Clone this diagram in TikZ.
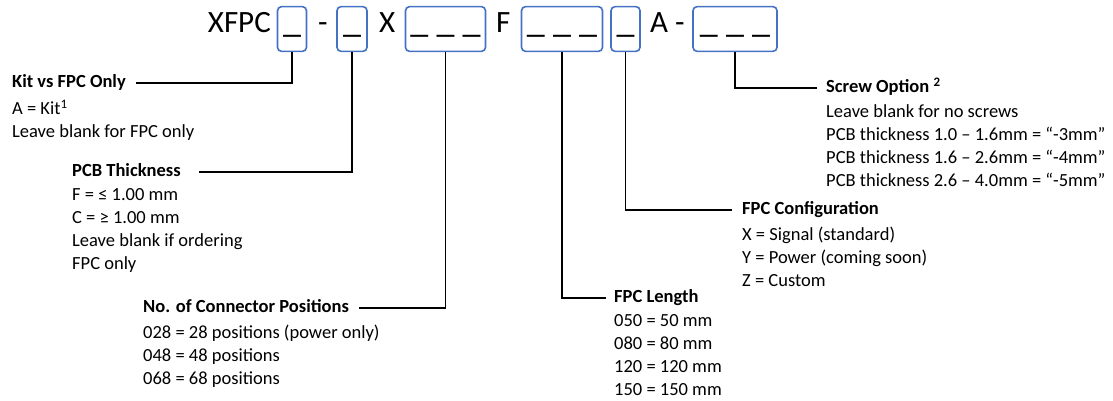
\documentclass[tikz,border=0pt]{standalone}
\usepackage{fontspec}
\setmainfont{Carlito}
\usepackage{tikz}
\usetikzlibrary{positioning}

\definecolor{boxblue}{RGB}{68,114,196}
\newcommand{\codefont}{\fontsize{31}{36}\selectfont}
\newcommand{\dashfont}{\fontsize{36}{40}\selectfont}
\newcommand{\bodyfont}{\fontsize{18.5}{23}\selectfont}

\begin{document}
\begin{tikzpicture}[x=1pt, y=-1pt,
	codebox/.style={draw=boxblue, line width=1.6pt, rounded corners=4pt, inner xsep=0pt,
		text height=22pt, text depth=16pt, font=\dashfont, anchor=base},
	codetext/.style={font=\codefont, inner sep=0pt, anchor=base west},
	optitle/.style={font=\bodyfont\bfseries, inner sep=0pt, anchor=west, text height=13pt, text depth=4pt},
	optbody/.style={font=\bodyfont, inner sep=0pt, align=left},
	leader/.style={line width=1.2pt, black}]
	
	\useasboundingbox (0,0) rectangle (1113,400);
	
	% part number
	\node[codetext, anchor=base east] (xfpc) at (271, 32) {XFPC};
	\node[codebox, minimum width=29pt] (b1) at (292, 32) {\_};
	\node[codetext] (d1) at (318, 32) {-};
	\node[codebox, minimum width=30pt] (b2) at (352, 32) {\_};
	\node[codetext] (x) at (379, 32) {X};
	\node[codebox, minimum width=80pt] (b3) at (445.5, 32) {\_ \_ \_};
	\node[codetext] (f) at (496, 32) {F};
	\node[codebox, minimum width=81pt] (b4) at (562, 32) {\_ \_ \_};
	\node[codebox, minimum width=29pt] (b5) at (625.5, 32) {\_};
	\node[codetext] (a) at (650, 32) {A};
	\node[codetext] (d2) at (675, 32) {-};
	\node[codebox, minimum width=84pt] (b6) at (735, 32) {\_ \_ \_};
	
	% options
	\node[optitle] (kit) at (12, 83) {Kit vs FPC Only};
	\node[optbody, below=8pt of kit.south west, anchor=north west] (kitb) {A = Kit\textsuperscript{1}\\Leave blank for FPC only};
	
	\node[optitle] (pcb) at (72, 172) {PCB Thickness};
	\node[optbody, below=8pt of pcb.south west, anchor=north west] (pcbb) {F = ≤ 1.00 mm\\C = ≥ 1.00 mm\\Leave blank if ordering\\FPC only};
	
	\node[optitle] (pos) at (143, 308) {No. of Connector Positions};
	\node[optbody, below=8pt of pos.south west, anchor=north west] (posb) {028 = 28 positions (power only)\\048 = 48 positions\\068 = 68 positions};
	
	\node[optitle] (len) at (614, 298) {FPC Length};
	\node[optbody, below=8pt of len.south west, anchor=north west] (lenb) {050 = 50 mm\\080 = 80 mm\\120 = 120 mm\\150 = 150 mm};
	
	\node[optitle] (cfg) at (742, 210) {FPC Configuration};
	\node[optbody, below=8pt of cfg.south west, anchor=north west] (cfgb) {X = Signal (standard)\\Y = Power (coming soon)\\Z = Custom};
	
	\node[optitle] (scr) at (826, 88) {Screw Option \textsuperscript{2}};
	\node[optbody, below=8pt of scr.south west, anchor=north west] (scrb) {Leave blank for no screws\\PCB thickness 1.0 – 1.6mm = “-3mm”\\PCB thickness 1.6 – 2.6mm = “-4mm”\\PCB thickness 2.6 – 4.0mm = “-5mm”};
	
	\draw[leader] (b1.south) |- ([xshift=10pt]kit.east);
	\draw[leader] (b2.south) |- ([xshift=18pt]pcb.east);
	\draw[leader] (b3.south) |- ([xshift=10pt]pos.east);
	\draw[leader] (b4.south) |- ([xshift=-8pt]len.west);
	\draw[leader] (b5.south) |- ([xshift=-10pt]cfg.west);
	\draw[leader] (b6.south) |- ([xshift=-9pt]scr.west);
	
\end{tikzpicture}
\end{document}
